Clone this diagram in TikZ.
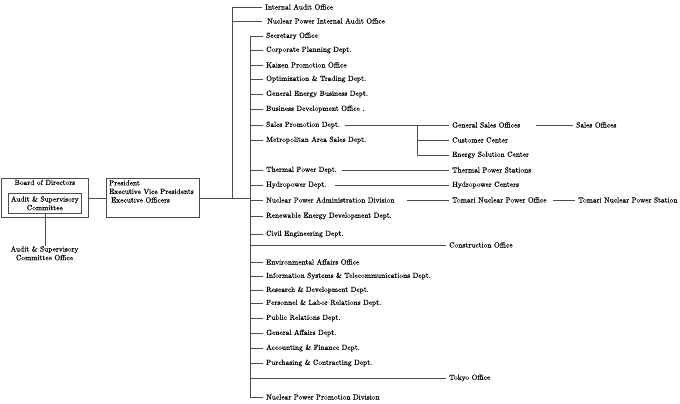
\documentclass[tikz,border=0pt]{standalone}
\usepackage{fontspec}
\setmainfont{lmroman10-regular.otf}[FakeBold=0.4]
\begin{document}
\begin{tikzpicture}[x=1pt,y=-1pt,
  conn/.style={line width=0.7pt, draw=black!70},
  txt/.style={font=\fontsize{7.45}{8.6}\selectfont, text=black},
  lbl/.style={txt, anchor=west, inner xsep=3pt, inner ysep=0.5pt},
  boxed/.style={txt, draw=black!70, line width=0.7pt}]
\useasboundingbox (0,0) rectangle (680,404);

% left boxes
\node[boxed, anchor=north west, minimum width=87pt, minimum height=39pt, inner sep=0pt] (bod) at (1,178) {};
\node[txt, anchor=north, inner sep=0pt] (bodt) at ([yshift=-1.5pt]bod.north) {Board of Directors};
\node[boxed, anchor=north west, minimum width=73pt, minimum height=20pt, inner sep=0.5pt, align=center] (asc) at (8,193) {Audit \& Supervisory\\Committee};
\node[txt, anchor=north, align=center, inner sep=0.5pt] (asco) at (44.5,245.5) {Audit \& Supervisory\\Committee Office};
\draw[conn] (asc.south) -- (asc.south |- asco.north);

\node[boxed, anchor=north west, minimum width=93pt, minimum height=39pt, inner sep=0pt] (pres) at (106,178) {};
\node[txt, anchor=north west, align=left, inner sep=0pt] (prest) at ([xshift=3pt,yshift=-2pt]pres.north west) {President\\Executive Vice Presidents\\\hspace{2pt}Executive Officers};
\draw[conn] (bod.east) -- (pres.west);

% trunks
\coordinate (otop) at (232,7);
\coordinate (ojoin) at (232,197.5);
\coordinate (itop) at (250,36);
\coordinate (ibot) at (250,397);

% outer branch
\node[lbl] (ia) at (262,7) {Internal Audit Office};
\node[lbl, inner xsep=5pt] (npia) at (262,21) {Nuclear Power Internal Audit Office};
\draw[conn] (ia.west) -| (ojoin);
\draw[conn] (npia.west) -- (npia.west -| otop);
\draw[conn] (pres.east) -- (pres.east -| itop);

% inner branch items
\node[lbl] (sec) at (263,36) {Secretary Office};
\node[lbl] (cpd) at (263,50) {Corporate Planning Dept.};
\node[lbl] (kpo) at (263,65) {Kaizen Promotion Office};
\node[lbl] (otd) at (263,79) {Optimization \& Trading Dept.};
\node[lbl] (geb) at (263,94) {General Energy Business Dept.};
\node[lbl] (bdo) at (263,109) {Business Development Office .};
\node[lbl] (spd) at (263,125) {Sales Promotion Dept.};
\node[lbl] (mas) at (263,140) {Metropolitan Area Sales Dept.};
\node[lbl] (tpd) at (263,170) {Thermal Power Dept.};
\node[lbl] (hpd) at (263,185) {Hydropower Dept.};
\node[lbl] (npad) at (263,200) {Nuclear Power Administration Division};
\node[lbl] (red) at (263,216) {Renewable Energy Development Dept.};
\node[lbl] (ced) at (263,234) {Civil Engineering Dept.};
\node[lbl] (eao) at (263,262) {Environmental Affairs Office};
\node[lbl] (ist) at (263,276) {Information Systems \& Telecommunications Dept.};
\node[lbl] (rdd) at (263,290) {Research \& Development Dept.};
\node[lbl] (plr) at (263,303) {Personnel \& Labor Relations Dept.};
\node[lbl] (prd) at (263,318) {Public Relations Dept.};
\node[lbl] (gad) at (263,333) {General Affairs Dept.};
\node[lbl] (afd) at (263,348) {Accounting \& Finance Dept.};
\node[lbl] (pcd) at (263,363) {Purchasing \& Contracting Dept.};
\node[lbl] (nppd) at (263,397) {Nuclear Power Promotion Division};

\draw[conn] (sec.west) -| (ibot) -- (nppd.west);
\foreach \n in {cpd,kpo,otd,geb,bdo,spd,mas,tpd,hpd,npad,red,ced,eao,ist,rdd,plr,prd,gad,afd,pcd}
  \draw[conn] (\n.west) -- (\n.west -| itop);

% long branches from inner trunk
\node[lbl] (con) at (446,245) {Construction Office};
\node[lbl] (tko) at (446,378) {Tokyo Office};
\draw[conn] (con.west) -- (con.west -| itop);
\draw[conn] (tko.west) -- (tko.west -| itop);

% right column
\node[lbl] (gso) at (449,125) {General Sales Offices};
\node[lbl] (cc) at (449,140) {Customer Center};
\node[lbl] (esc) at (449,155) {Energy Solution Center};
\node[lbl] (so) at (573,125) {Sales Offices};
\node[lbl] (tps) at (449,170) {Thermal Power Stations};
\node[lbl] (hpc) at (449,185) {Hydropower Centers};
\node[lbl] (tnpo) at (449,200) {Tomari Nuclear Power Office};
\node[lbl] (tnps) at (575,200) {Tomari Nuclear Power Station};
\coordinate (br) at (417,125);
\coordinate (soa) at (536,125);
\coordinate (spa) at (345,125);
\coordinate (tpa) at (342,170);
\coordinate (hpa) at (335,185);
\coordinate (npa) at (407,200);
\coordinate (tna) at (553,200);

\draw[conn] (spa) -- (gso.west);
\draw[conn] (br) |- (esc.west);
\draw[conn] (cc.west) -- (cc.west -| br);
\draw[conn] (soa) -- (so.west);
\draw[conn] (tpa) -- (tps.west);
\draw[conn] (hpa) -- (hpc.west);
\draw[conn] (npa) -- (tnpo.west);
\draw[conn] (tna) -- (tnps.west);
\end{tikzpicture}
\end{document}
